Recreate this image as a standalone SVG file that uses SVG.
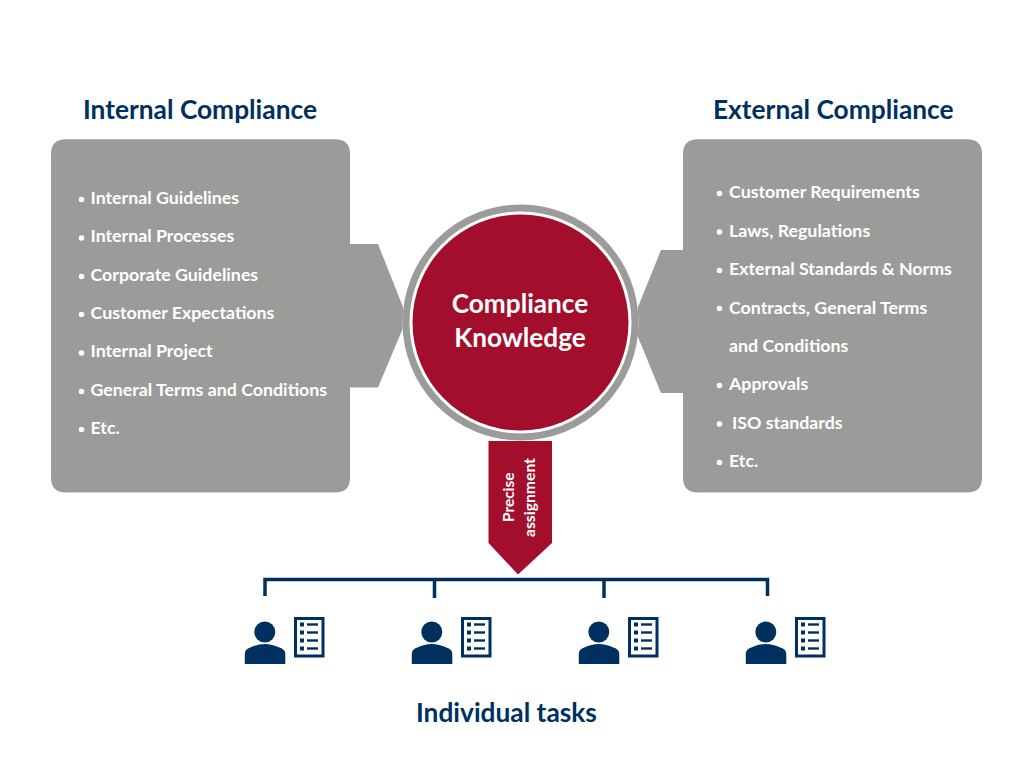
<svg xmlns="http://www.w3.org/2000/svg" xmlns:xlink="http://www.w3.org/1999/xlink" width="1024" height="768" viewBox="0 0 1024 768">
<style>
text{font-family:Lato,"Open Sans",sans-serif;font-weight:700}
.h{font-size:26.300px;fill:#00305e}
.i{font-size:17.800px;fill:#fff}
.g{fill:#9b9b9a}
.n{fill:#00305e}
.b{fill:none;stroke:#00305e;stroke-width:3.500}
</style>
<defs>
<g id="person"><circle cx="264.800" cy="632" r="10.500" class="n"/><path class="n" d="M244.800 664V654Q244.800 649 250.300 647.500Q257.300 644 264.800 644Q272.300 644 279.300 647.500Q285.300 649 285.300 654V664Z"/></g>
<g id="doc"><rect x="295.500" y="618.500" width="27.500" height="37.500" fill="#fff" stroke="#00305e" stroke-width="3"/>
<g class="n"><rect x="300" y="622.500" width="4" height="4"/><rect x="300" y="630.500" width="4" height="4"/><rect x="300" y="638.500" width="4" height="4"/><rect x="300" y="646.500" width="4" height="4"/><rect x="307" y="623.300" width="11" height="2.400"/><rect x="307" y="631.300" width="11" height="2.400"/><rect x="307" y="639.300" width="11" height="2.400"/><rect x="307" y="647.300" width="11" height="2.400"/></g></g>
</defs>
<rect width="1024" height="768" fill="#fff"/>
<g id="internal">
<text class="h" x="83" y="118.700">Internal Compliance</text>
<path class="g" d="M66 139.300H335Q350 139.300 350 154V244H378L403 307V328L378 387.500H350V477.500Q350 492.500 335 492.500H66Q51 492.500 51 477.500V154Q51 139.300 66 139.300Z"/>
<g>
<circle cx="81.500" cy="199.500" r="2.800" fill="#fff"/><text class="i" x="90.500" y="203.800">Internal Guidelines</text>
<circle cx="81.500" cy="238" r="2.800" fill="#fff"/><text class="i" x="90.500" y="242.300">Internal Processes</text>
<circle cx="81.500" cy="276.500" r="2.800" fill="#fff"/><text class="i" x="90.500" y="280.600">Corporate Guidelines</text>
<circle cx="81.500" cy="314.500" r="2.800" fill="#fff"/><text class="i" x="90.500" y="319.100">Customer Expectations</text>
<circle cx="81.500" cy="353" r="2.800" fill="#fff"/><text class="i" x="90.500" y="357.400">Internal Project</text>
<circle cx="81.500" cy="391.500" r="2.800" fill="#fff"/><text class="i" x="90.500" y="395.800">General Terms and Conditions</text>
<circle cx="81.500" cy="429.500" r="2.800" fill="#fff"/><text class="i" x="90.500" y="434.200">Etc.</text>
</g>
</g>
<g id="external">
<text class="h" x="713" y="118.700">External Compliance</text>
<path class="g" d="M698 139.300H967Q982 139.300 982 154V477.500Q982 492.500 967 492.500H698Q683 492.500 683 477.500V393H661L638 337V307L661 250H683V154Q683 139.300 698 139.300Z"/>
<g>
<circle cx="719.500" cy="193.500" r="2.800" fill="#fff"/><text class="i" x="729" y="198.200">Customer Requirements</text>
<circle cx="719.500" cy="232" r="2.800" fill="#fff"/><text class="i" x="729" y="236.700">Laws, Regulations</text>
<circle cx="719.500" cy="270.500" r="2.800" fill="#fff"/><text class="i" x="729" y="275.100">External Standards &amp; Norms</text>
<circle cx="719.500" cy="308.500" r="2.800" fill="#fff"/><text class="i" x="729" y="313.600">Contracts, General Terms</text>
<text class="i" x="729" y="352">and Conditions</text>
<circle cx="719.500" cy="385.500" r="2.800" fill="#fff"/><text class="i" x="729" y="390.400">Approvals</text>
<circle cx="719.500" cy="424" r="2.800" fill="#fff"/><text class="i" x="732" y="428.800">ISO standards</text>
<circle cx="719.500" cy="462.500" r="2.800" fill="#fff"/><text class="i" x="729" y="467.200">Etc.</text>
</g>
</g>
<g id="assignment">
<path d="M488.500 441H552V543L518 574.500L488.500 543Z" fill="#a30e2d"/>
<text transform="translate(514,522) rotate(-90)" font-size="15.400" fill="#fff">Precise</text>
<text transform="translate(534.500,537) rotate(-90)" font-size="15.700" fill="#fff">assignment</text>
</g>
<g id="knowledge">
<circle cx="520.500" cy="322.500" r="118" fill="#fff"/>
<circle cx="520.500" cy="322.500" r="114.500" fill="none" stroke="#9b9b9a" stroke-width="7"/>
<circle cx="520.500" cy="322.500" r="108" fill="#a30e2d"/>
<text x="520" y="312.500" font-size="26.200" fill="#fff" text-anchor="middle">Compliance</text>
<text x="520" y="346.500" font-size="26.200" fill="#fff" text-anchor="middle">Knowledge</text>
</g>
<g id="connectors">
<path class="b" d="M265 596V579.500H767.500V596M434.500 579.500V598M604 579.500V598"/>
</g>
<g id="task1"><use xlink:href="#person" href="#person"/><use xlink:href="#doc" href="#doc"/></g>
<g id="task2"><use xlink:href="#person" href="#person" x="167"/><use xlink:href="#doc" href="#doc" x="167"/></g>
<g id="task3"><use xlink:href="#person" href="#person" x="334"/><use xlink:href="#doc" href="#doc" x="334"/></g>
<g id="task4"><use xlink:href="#person" href="#person" x="501"/><use xlink:href="#doc" href="#doc" x="501"/></g>
<text class="h" x="416" y="721.500">Individual tasks</text>
</svg>
